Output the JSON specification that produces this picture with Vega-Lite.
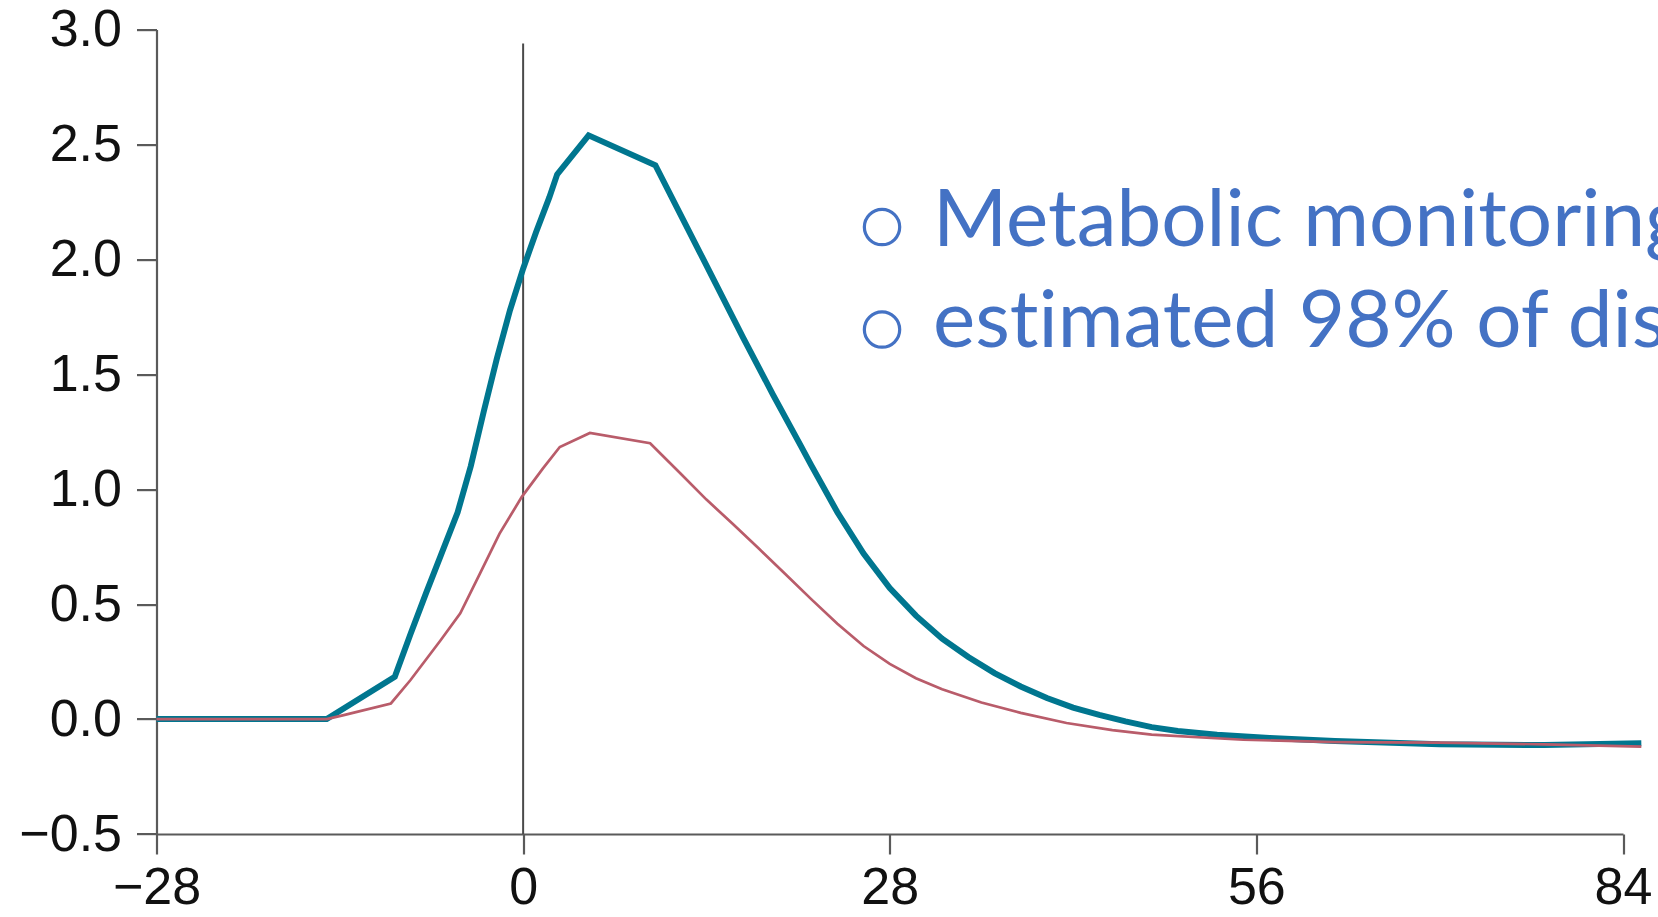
{
  "$schema": "https://vega.github.io/schema/vega-lite/v6.json",
  "width": 1466.5,
  "height": 804.4,
  "autosize": {"type": "none"},
  "padding": {"left": 156.5, "top": 29.6, "right": 35, "bottom": 83},
  "background": "white",
  "config": {
    "view": {"stroke": null},
    "axis": {
      "grid": false,
      "title": null,
      "labelFlush": false,
      "labelOverlap": false,
      "domainColor": "#5a5a5a",
      "domainWidth": 2.2,
      "tickColor": "#5a5a5a",
      "tickWidth": 2.2,
      "tickSize": 20,
      "labelFont": "Liberation Sans",
      "labelFontSize": 52,
      "labelColor": "#111111"
    }
  },
  "datasets": {
    "curves": [
      {"day": -28, "value": 0, "series": "teal"},
      {"day": -15, "value": 0, "series": "teal"},
      {"day": -9.8, "value": 0.184, "series": "teal"},
      {"day": -8.6, "value": 0.37, "series": "teal"},
      {"day": -7.4, "value": 0.55, "series": "teal"},
      {"day": -6.3, "value": 0.71, "series": "teal"},
      {"day": -5, "value": 0.9, "series": "teal"},
      {"day": -4, "value": 1.1, "series": "teal"},
      {"day": -3, "value": 1.34, "series": "teal"},
      {"day": -2, "value": 1.57, "series": "teal"},
      {"day": -1, "value": 1.78, "series": "teal"},
      {"day": 0, "value": 1.96, "series": "teal"},
      {"day": 1, "value": 2.12, "series": "teal"},
      {"day": 2, "value": 2.27, "series": "teal"},
      {"day": 2.6, "value": 2.37, "series": "teal"},
      {"day": 5, "value": 2.54, "series": "teal"},
      {"day": 10.1, "value": 2.41, "series": "teal"},
      {"day": 13.5, "value": 2.03, "series": "teal"},
      {"day": 16.8, "value": 1.66, "series": "teal"},
      {"day": 19.1, "value": 1.41, "series": "teal"},
      {"day": 21.2, "value": 1.19, "series": "teal"},
      {"day": 22, "value": 1.105, "series": "teal"},
      {"day": 24, "value": 0.9, "series": "teal"},
      {"day": 26, "value": 0.72, "series": "teal"},
      {"day": 28, "value": 0.57, "series": "teal"},
      {"day": 30, "value": 0.45, "series": "teal"},
      {"day": 32, "value": 0.35, "series": "teal"},
      {"day": 34, "value": 0.27, "series": "teal"},
      {"day": 36, "value": 0.2, "series": "teal"},
      {"day": 38, "value": 0.142, "series": "teal"},
      {"day": 40, "value": 0.092, "series": "teal"},
      {"day": 42, "value": 0.05, "series": "teal"},
      {"day": 44, "value": 0.018, "series": "teal"},
      {"day": 46, "value": -0.01, "series": "teal"},
      {"day": 48, "value": -0.035, "series": "teal"},
      {"day": 50, "value": -0.052, "series": "teal"},
      {"day": 53, "value": -0.068, "series": "teal"},
      {"day": 57, "value": -0.082, "series": "teal"},
      {"day": 62, "value": -0.095, "series": "teal"},
      {"day": 70, "value": -0.11, "series": "teal"},
      {"day": 78, "value": -0.113, "series": "teal"},
      {"day": 85.4, "value": -0.105, "series": "teal"},
      {"day": -28, "value": 0, "series": "red"},
      {"day": -15, "value": 0, "series": "red"},
      {"day": -13.7, "value": 0.017, "series": "red"},
      {"day": -10.1, "value": 0.068, "series": "red"},
      {"day": -8.6, "value": 0.17, "series": "red"},
      {"day": -6.3, "value": 0.343, "series": "red"},
      {"day": -4.8, "value": 0.46, "series": "red"},
      {"day": -3.3, "value": 0.633, "series": "red"},
      {"day": -1.8, "value": 0.807, "series": "red"},
      {"day": -0.1, "value": 0.967, "series": "red"},
      {"day": 1.5, "value": 1.09, "series": "red"},
      {"day": 2.8, "value": 1.184, "series": "red"},
      {"day": 5.1, "value": 1.245, "series": "red"},
      {"day": 9.7, "value": 1.2, "series": "red"},
      {"day": 12, "value": 1.07, "series": "red"},
      {"day": 14, "value": 0.955, "series": "red"},
      {"day": 16, "value": 0.85, "series": "red"},
      {"day": 18, "value": 0.742, "series": "red"},
      {"day": 20, "value": 0.632, "series": "red"},
      {"day": 22, "value": 0.522, "series": "red"},
      {"day": 24, "value": 0.415, "series": "red"},
      {"day": 26, "value": 0.318, "series": "red"},
      {"day": 28, "value": 0.24, "series": "red"},
      {"day": 30, "value": 0.178, "series": "red"},
      {"day": 32, "value": 0.13, "series": "red"},
      {"day": 35, "value": 0.072, "series": "red"},
      {"day": 38, "value": 0.027, "series": "red"},
      {"day": 41.5, "value": -0.017, "series": "red"},
      {"day": 45, "value": -0.048, "series": "red"},
      {"day": 48, "value": -0.068, "series": "red"},
      {"day": 55, "value": -0.09, "series": "red"},
      {"day": 62, "value": -0.1, "series": "red"},
      {"day": 70, "value": -0.102, "series": "red"},
      {"day": 78, "value": -0.11, "series": "red"},
      {"day": 85.4, "value": -0.12, "series": "red"}
    ],
    "vline": [
      {"day": 0, "y0": -0.5, "y1": 2.94}
    ],
    "bullets": [
      {"bx": 27.41, "by": 2.141},
      {"bx": 27.41, "by": 1.695}
    ],
    "notes": [
      {"tx": 31.3, "ty": 2.059, "label": "Metabolic monitoring"},
      {"tx": 31.3, "ty": 1.62, "label": "est\u200cimated 98% of disc"}
    ]
  },
  "layer": [
    {
      "data": {"name": "vline"},
      "mark": {"type": "rule", "color": "#4a4a4a", "strokeWidth": 2},
      "encoding": {
        "x": {"field": "day", "type": "quantitative", "scale": {"domain": [-28, 84], "nice": false, "zero": false},
          "axis": {"values": [-28, 0, 28, 56, 84], "labelPadding": 8}},
        "y": {"field": "y0", "type": "quantitative", "scale": {"domain": [-0.5, 3.0], "nice": false, "zero": false},
          "axis": {"values": [-0.5, 0, 0.5, 1, 1.5, 2, 2.5, 3], "format": ".1f", "labelPadding": 15}},
        "y2": {"field": "y1"}
      }
    },
    {
      "data": {"name": "curves"},
      "transform": [{"filter": "datum.series === 'teal'"}],
      "mark": {"type": "line", "color": "#00768F", "strokeWidth": 6, "clip": false},
      "encoding": {
        "x": {"field": "day", "type": "quantitative"},
        "y": {"field": "value", "type": "quantitative"}
      }
    },
    {
      "data": {"name": "curves"},
      "transform": [{"filter": "datum.series === 'red'"}],
      "mark": {"type": "line", "color": "#B95C6A", "strokeWidth": 2.7, "clip": false},
      "encoding": {
        "x": {"field": "day", "type": "quantitative"},
        "y": {"field": "value", "type": "quantitative"}
      }
    },
    {
      "data": {"name": "bullets"},
      "mark": {"type": "point", "shape": "circle", "filled": false, "stroke": "#4472C4", "strokeWidth": 3.2, "size": 1250, "opacity": 1},
      "encoding": {
        "x": {"field": "bx", "type": "quantitative"},
        "y": {"field": "by", "type": "quantitative"}
      }
    },
    {
      "data": {"name": "notes"},
      "mark": {"type": "text", "align": "left", "baseline": "alphabetic", "font": "Lato", "fontSize": 80, "color": "#4472C4"},
      "encoding": {
        "x": {"field": "tx", "type": "quantitative"},
        "y": {"field": "ty", "type": "quantitative"},
        "text": {"field": "label"}
      }
    }
  ]
}
